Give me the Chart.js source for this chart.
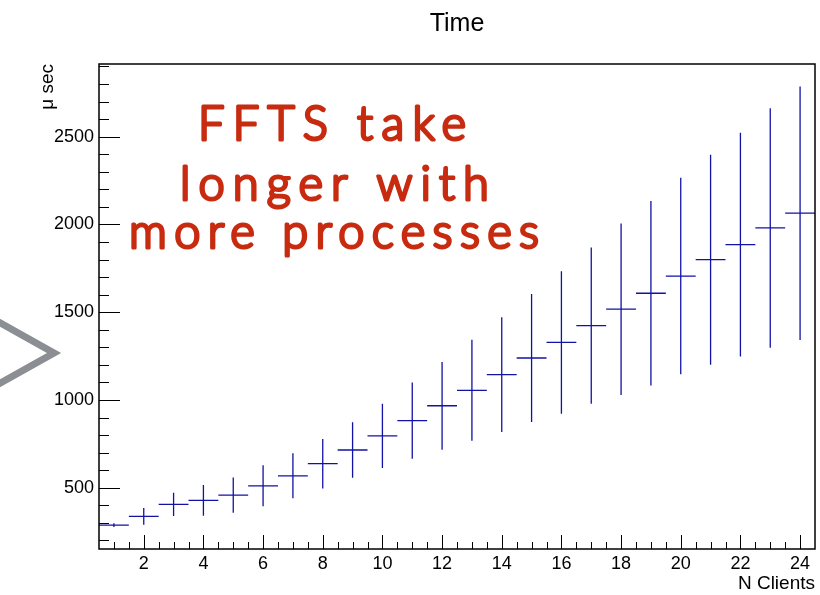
<!DOCTYPE html>
<html>
<head>
<meta charset="utf-8">
<title>Time</title>
<script src="https://cdn.jsdelivr.net/npm/chart.js@4"></script>
<style>
html, body { margin: 0; padding: 0; background: #fff; }
</style>
</head>
<body>
<canvas id="timeChart" width="820" height="595"></canvas>
<script>
// number of clients (bin centres) and mean FFT time per bin, in microseconds
const nClients = [1, 2, 3, 4, 5, 6, 7, 8, 9, 10, 11, 12, 13, 14, 15, 16, 17, 18, 19, 20, 21, 22, 23, 24]
const meanTime = [287, 337, 405, 428, 458, 511, 568, 637, 715, 796, 882, 967, 1055, 1144, 1239, 1328, 1424, 1517, 1608, 1706, 1799, 1885, 1980, 2064]
const timeError = [10, 48, 66, 87, 100, 117, 128, 141, 158, 183, 217, 250, 288, 327, 365, 406, 445, 488, 525, 560, 598, 638, 682, 722]

const xTickValues = [2, 4, 6, 8, 10, 12, 14, 16, 18, 20, 22, 24]
const yTickValues = [500, 1000, 1500, 2000, 2500]
const noteLines = ['FFTS take', 'longer with', 'more processes']

const BIN_HALF = 0.5
const HIST_COLOR = '#1212a4'
const NOTE_COLOR = '#c72b10'

Chart.defaults.font.family = '"Liberation Sans", Arial, sans-serif'
Chart.defaults.color = '#000'
Chart.defaults.animation = false

// horizontal bin bars and vertical error bars, split into segments by null points
const binBars = []
const errBars = []
nClients.forEach((n, i) => {
    binBars.push({x: n - BIN_HALF, y: meanTime[i]}, {x: n + BIN_HALF, y: meanTime[i]}, {x: n + BIN_HALF, y: null})
    errBars.push({x: n, y: meanTime[i] - timeError[i]}, {x: n, y: meanTime[i] + timeError[i]}, {x: n, y: null})
})

// frame plus inward tick marks, ROOT style
const frameTicks = {
    id: 'frameTicks',
    afterDraw(chart) {
        const {ctx, chartArea: a, scales: {x, y}} = chart
        ctx.save()
        ctx.strokeStyle = '#000'
        ctx.lineWidth = 1
        ctx.beginPath()
        for (let v = 1; v <= 24; v += 0.5) {
            const px = Math.round(x.getPixelForValue(v)) + 0.5
            const len = v % 2 === 0 ? 14 : 7
            ctx.moveTo(px, a.bottom)
            ctx.lineTo(px, a.bottom - len)
        }
        for (let v = 200; v <= 2900; v += 100) {
            const py = Math.round(y.getPixelForValue(v)) + 0.5
            if (py < a.top + 2) continue
            const len = v % 500 === 0 ? 21 : 10
            ctx.moveTo(a.left, py)
            ctx.lineTo(a.left + len, py)
        }
        ctx.stroke()
        ctx.lineWidth = 1.5
        ctx.strokeRect(a.left, a.top, a.right - a.left, a.bottom - a.top)
        ctx.restore()
    }
}

// handwritten note and the grey chevron at the left edge
const noteLayer = {
    id: 'noteLayer',
    afterDraw(chart) {
        const ctx = chart.ctx
        ctx.save()
        ctx.strokeStyle = '#8b8e92'
        ctx.lineWidth = 7
        ctx.lineJoin = 'miter'
        ctx.beginPath()
        ctx.moveTo(-3, 321)
        ctx.lineTo(54, 353)
        ctx.lineTo(-3, 385)
        ctx.stroke()

        const place = [
            {left: 198, base: 140, w: 268},
            {left: 180, base: 200, w: 309},
            {left: 129, base: 248, w: 410},
        ]
        ctx.textAlign = 'left'
        ctx.textBaseline = 'alphabetic'
        ctx.fillStyle = NOTE_COLOR
        ctx.strokeStyle = NOTE_COLOR
        ctx.lineWidth = 3
        ctx.lineJoin = 'round'
        ctx.lineCap = 'round'
        noteLines.forEach((txt, i) => {
            const p = place[i]
            ctx.letterSpacing = '0px'
            ctx.font = '300 47px Lato'
            const w = ctx.measureText(txt).width
            // spread the glyphs out so each line spans its width
            const gap = (p.w - w) / (txt.length - 1)
            ctx.letterSpacing = gap.toFixed(2) + 'px'
            ctx.strokeText(txt, p.left, p.base)
            ctx.fillText(txt, p.left, p.base)
        })
        ctx.restore()
    }
}

new Chart(document.getElementById('timeChart'), {
    type: 'line',
    data: {
        datasets: [
            {data: binBars, borderColor: HIST_COLOR, borderWidth: 1.3},
            {data: errBars, borderColor: HIST_COLOR, borderWidth: 1.3},
        ]
    },
    options: {
        responsive: false,
        spanGaps: false,
        layout: {padding: {left: 0, right: 5, top: 0, bottom: 0}},
        elements: {
            point: {radius: 0, hoverRadius: 0},
            line: {tension: 0, fill: false},
        },
        scales: {
            x: {
                type: 'linear',
                min: 0.5,
                max: 24.5,
                afterBuildTicks: axis => { axis.ticks = xTickValues.map(v => ({value: v})) },
                afterFit: axis => { axis.height = 46 },
                grid: {display: false, drawTicks: false},
                border: {display: false},
                ticks: {font: {size: 18}, padding: 4, maxRotation: 0, autoSkip: false, callback: v => v},
                title: {display: true, text: 'N Clients', align: 'end', font: {size: 19}, padding: {top: 0, bottom: 0}},
            },
            y: {
                type: 'linear',
                min: 151,
                max: 2914,
                afterBuildTicks: axis => { axis.ticks = yTickValues.map(v => ({value: v})) },
                afterFit: axis => { axis.width = 99 },
                grid: {display: false, drawTicks: false},
                border: {display: false},
                ticks: {font: {size: 18}, padding: 5, autoSkip: false, callback: v => v},
                title: {display: true, text: 'μ sec', align: 'end', font: {size: 19}, padding: {top: 36, bottom: 0}},
            }
        },
        plugins: {
            legend: {display: false},
            tooltip: {enabled: false},
            title: {
                display: true,
                text: 'Time',
                fullSize: false,
                font: {size: 25, weight: 'normal'},
                padding: {top: 9, bottom: 25},
            },
        },
    },
    plugins: [frameTicks, noteLayer]
})
</script>
</body>
</html>
